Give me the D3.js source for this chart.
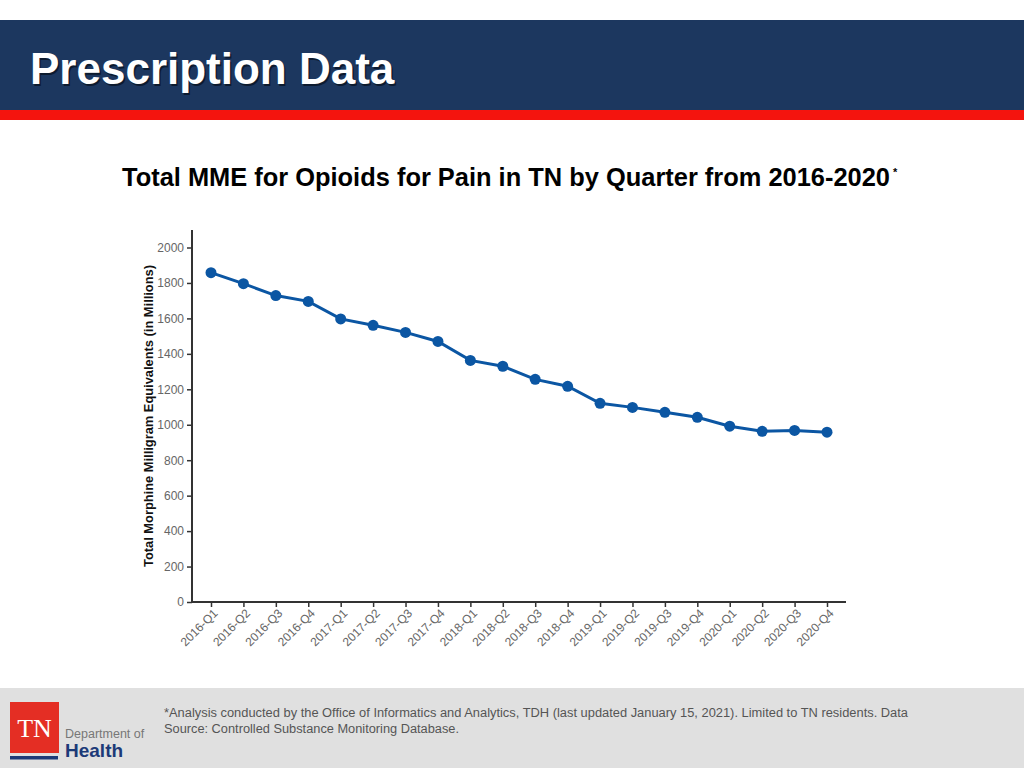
<!DOCTYPE html>
<html>
<head>
<meta charset="utf-8">
<script src="https://cdn.jsdelivr.net/npm/d3@7"></script>
<style>
  body { margin: 0; background: #fff; }
  svg { display: block; font-family: "Liberation Sans", Arial, sans-serif; }
</style>
</head>
<body>
<svg id="chart" width="1024" height="768"></svg>
<script>
// quarters on the x axis
const quarters = ['2016-Q1','2016-Q2','2016-Q3','2016-Q4','2017-Q1','2017-Q2','2017-Q3','2017-Q4',
  '2018-Q1','2018-Q2','2018-Q3','2018-Q4','2019-Q1','2019-Q2','2019-Q3','2019-Q4',
  '2020-Q1','2020-Q2','2020-Q3','2020-Q4']
// total MME (millions)
const mme = [1858, 1796, 1729, 1696, 1597, 1561, 1521, 1470, 1363, 1330, 1256, 1217,
  1121, 1098, 1070, 1042, 992, 963, 968, 958]
const yTicks = [0, 200, 400, 600, 800, 1000, 1200, 1400, 1600, 1800, 2000]

const svg = d3.select('#chart')
const font = '"Liberation Sans", Arial, sans-serif'

// header band
svg.append('rect').attr('x', 0).attr('y', 20).attr('width', 1024).attr('height', 90).attr('fill', '#1c375f')
svg.append('rect').attr('x', 0).attr('y', 110).attr('width', 1024).attr('height', 10).attr('fill', '#f4140e')
svg.append('text')
  .attr('x', 31.5).attr('y', 85.5)
  .attr('font-size', '44px').attr('font-weight', 'bold')
  .attr('fill', '#000').attr('opacity', 0.5)
  .text('Prescription Data')
svg.append('text')
  .attr('x', 30).attr('y', 84)
  .attr('font-size', '44px').attr('font-weight', 'bold')
  .attr('fill', '#fff')
  .text('Prescription Data')

// chart title
svg.append('text')
  .attr('x', 122).attr('y', 186)
  .attr('font-family', '"Liberation Sans Narrow", "Arial Narrow", "Liberation Sans", sans-serif')
  .attr('font-size', '25px').attr('font-weight', 'bold')
  .attr('textLength', 768).attr('lengthAdjust', 'spacingAndGlyphs')
  .attr('fill', '#000')
  .text('Total MME for Opioids for Pain in TN by Quarter from 2016-2020')
svg.append('text')
  .attr('x', 893).attr('y', 176)
  .attr('font-size', '11px').attr('font-weight', 'bold')
  .text('*')

// plot area
const x = d3.scalePoint().domain(quarters).range([211, 827])
const y = d3.scaleLinear().domain([0, 2000]).range([602, 247.5])

const yAxis = svg.append('g')
  .attr('transform', 'translate(192,0)')
  .call(d3.axisLeft(y).tickValues(yTicks).tickFormat(d3.format('d')).tickSize(5).tickPadding(3).tickSizeOuter(0))
yAxis.select('.domain').remove()
yAxis.append('line').attr('x1', 0).attr('x2', 0).attr('y1', 230).attr('y2', 603)
  .attr('stroke', '#333').attr('stroke-width', 2)
yAxis.selectAll('.tick line').attr('stroke', '#333').attr('stroke-width', 1.5)
yAxis.selectAll('.tick text').attr('fill', '#666').attr('font-size', '12px')
  .attr('font-family', font)

const xAxis = svg.append('g')
  .attr('transform', 'translate(0,602)')
  .call(d3.axisBottom(x).tickSize(5).tickPadding(3).tickSizeOuter(0))
xAxis.select('.domain').remove()
xAxis.append('line').attr('x1', 191).attr('x2', 846).attr('y1', 0).attr('y2', 0)
  .attr('stroke', '#333').attr('stroke-width', 2)
xAxis.selectAll('.tick line').attr('stroke', '#333').attr('stroke-width', 1.5)
xAxis.selectAll('.tick text')
  .attr('fill', '#666').attr('font-size', '12px')
  .attr('font-family', font)
  .attr('text-anchor', 'end')
  .attr('y', 0).attr('dy', 0)
  .attr('transform', 'translate(7,12) rotate(-45)')

svg.append('text')
  .attr('transform', 'translate(153,416) rotate(-90)')
  .attr('text-anchor', 'middle')
  .attr('font-size', '12.5px').attr('font-weight', 'bold')
  .attr('textLength', 302).attr('lengthAdjust', 'spacingAndGlyphs')
  .attr('fill', '#111')
  .text('Total Morphine Milligram Equivalents (in Millions)')

const line = d3.line().x((d, i) => x(quarters[i])).y(d => y(d))
svg.append('path').datum(mme)
  .attr('d', line)
  .attr('fill', 'none').attr('stroke', '#0b56a3').attr('stroke-width', 3)

svg.selectAll('.dot').data(mme).enter().append('circle')
  .attr('cx', (d, i) => x(quarters[i]))
  .attr('cy', d => y(d))
  .attr('r', 5.5)
  .attr('fill', '#0b56a3')

// footer
svg.append('rect').attr('x', 0).attr('y', 688).attr('width', 1024).attr('height', 80).attr('fill', '#e0e0e0')
svg.append('rect').attr('x', 10).attr('y', 702).attr('width', 49).attr('height', 51).attr('fill', '#e42e24')
svg.append('text').attr('x', 34.5).attr('y', 737).attr('text-anchor', 'middle')
  .attr('font-family', '"Liberation Serif", "DejaVu Serif", serif')
  .attr('font-size', '26px').attr('fill', '#fff').text('TN')
svg.append('rect').attr('x', 10).attr('y', 756).attr('width', 48).attr('height', 3.5).attr('fill', '#1c3a78')
svg.append('text').attr('x', 65).attr('y', 738)
  .attr('font-size', '12.5px').attr('fill', '#777').text('Department of')
svg.append('text').attr('x', 65).attr('y', 757)
  .attr('font-size', '19px').attr('font-weight', 'bold').attr('fill', '#1c3a78').text('Health')

svg.append('text').attr('x', 164).attr('y', 717)
  .attr('font-size', '12.5px').attr('fill', '#555')
  .attr('textLength', 744).attr('lengthAdjust', 'spacingAndGlyphs')
  .text('*Analysis conducted by the Office of Informatics and Analytics, TDH (last updated January 15,  2021). Limited to TN residents. Data')
svg.append('text').attr('x', 164).attr('y', 733)
  .attr('font-size', '12.5px').attr('fill', '#555')
  .attr('textLength', 295).attr('lengthAdjust', 'spacingAndGlyphs')
  .text('Source: Controlled Substance Monitoring Database.')
</script>
</body>
</html>
